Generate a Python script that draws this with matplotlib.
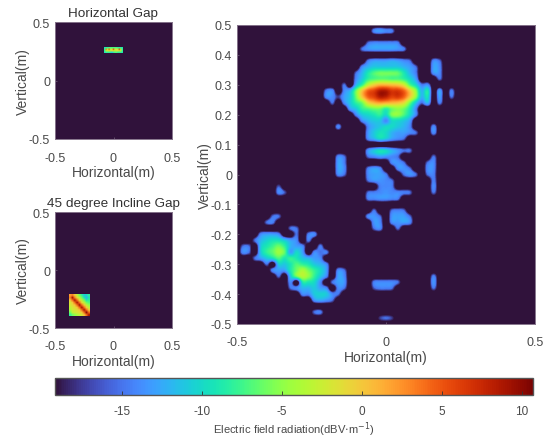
"""Electric field radiation maps for the horizontal and inclined gaps."""

import numpy as np
import matplotlib
matplotlib.use("Agg")
import matplotlib.pyplot as plt
from matplotlib.cm import ScalarMappable
from matplotlib.colors import ListedColormap, Normalize

plt.rcParams["font.family"] = ["Liberation Sans", "DejaVu Sans"]

o = -19.2  # nothing measured

# dBV/m, 0.02 m cells
# columns x = -0.22 ... 0.22, rows y = 0.48 ... -0.18
central_lobe = [
    [o, o, o, o, o, o, o, o, o, -14, -13, -14, -14.5, o, o, o, o, o, o, o, o, o, o],
    [o, o, o, o, o, o, o, o, o, o, o, o, o, o, o, o, o, o, o, o, o, o, o],
    [o, o, o, o, o, o, o, o, -15, -14, -14, -14, -14, -14.5, o, o, o, o, o, o, o, o, o],
    [o, o, o, o, o, o, o, -15, -13.5, -13, -13, -13, -13, -13.5, -14.5, o, o, o, o, o, o, o, o],
    [o, o, o, o, o, o, o, o, o, o, o, o, o, o, o, o, o, o, o, o, o, o, o],
    [o, o, o, o, o, o, o, o, -14.5, -13, -13, -13, -12.5, -13, -14, -15, o, o, o, -14, -15, o, o],
    [o, o, o, o, o, o, o, -14, -12, -11, -11, -11, -11, -11, -12, -13, -15, o, o, -13, -14, o, o],
    [o, o, o, o, o, o, -15, -12, -9, -7, -6, -6, -6, -6.5, -9, -12, -14.5, o, o, -13.5, -14, o, o],
    [o, o, o, o, o, o, -14, -11, -8, -7, -6.5, -6.5, -7, -7, -8, -10, -13, o, o, o, -15, o, o],
    [o, o, o, o, -15, o, -12, -8, -3, -0.5, 1, 1, 0.5, 0, -2, -7, -10, -14.5, -14, o, o, o, o],
    [o, -14.5, -14, o, -14, -12, -6, 0, 4.5, 6, 8.5, 8.5, 6.5, 6.5, 4.5, 0, -5, -12, -9, o, -13, o, -14.5],
    [o, -14, -14, -16, -13, -11, -6, 0, 4.5, 6, 8.5, 8, 6, 6.5, 4.5, 0, -5, -12, -9.5, o, -13, o, -15],
    [o, o, -15, o, -14, -11, -8, -6, -1, 1, 2, 1.5, 1, 0.5, -1, -6, -11, -15, -12, o, -14.5, o, o],
    [o, o, o, o, o, -13, -11, -8, -7, -6, -6, -8, -6, -5, -6, -9, -14, o, o, o, o, o, o],
    [o, o, o, o, o, o, -14, -11, -10, -9, -8, -10, -5.5, -5, -7, -10, -14, o, o, o, o, o, o],
    [o, o, o, o, o, o, o, -14, -12, -11, -11, -14, -10, -10, -11, -13, o, o, o, o, o, o, o],
    [o, o, o, -14, o, o, o, o, -14, -12, -11, -10, -10, -11, -12, -14, o, o, o, -14, o, o, o],
    [o, o, o, o, o, o, o, o, -13.5, -11, -9.5, -10, -12, -13, -13, -14, -15, o, o, -14, o, o, o],
    [o, o, o, o, o, o, o, o, -14, -12, -10, -11, -13, -14, -15, o, o, o, o, o, o, o, o],
    [o, o, o, o, o, o, o, o, o, o, o, o, o, o, o, o, o, o, o, o, o, o, o],
    [o, o, o, o, o, o, o, o, -13.5, -11, -9.5, -10, -12, -13.5, -15, -15, o, o, o, o, o, o, o],
    [o, o, o, -14, -15, o, o, o, -15, -14, -13, -13.5, -14, -15, o, o, o, o, o, -15, o, o, o],
    [o, o, o, -13, -14.5, o, o, o, o, o, o, o, -14, -13.5, -15, o, o, o, -15, -14, o, o, o],
    [o, o, o, -13, -14, o, o, o, -14.5, -13, -14, o, o, -14, -13.5, -15, o, o, -14, -14, o, o, o],
    [o, o, o, -14, -15, o, o, o, -14, -13, -13, -14.5, o, o, -15, -13.5, -15, o, -15, -14.5, o, o, o],
    [o, o, o, o, o, o, o, o, -15, -13.5, -13.5, -14, -15, o, o, o, o, o, o, -14.5, o, o, o],
    [o, o, o, o, o, o, o, o, o, o, -14.5, -14, -14.5, o, o, o, o, o, o, -14, o, o, o],
    [o, o, o, o, o, o, o, o, -15, -14.5, -14, -13.5, -14, -14, -14.5, -15, o, o, o, -15, o, o, o],
    [o, o, o, o, o, o, o, o, -14.5, -14, -13.5, -13.5, -14, -14.5, o, o, o, o, o, o, o, o, o],
    [o, o, o, o, o, o, o, o, o, o, o, o, o, o, o, o, o, o, o, o, o, o, o],
    [o, o, o, o, o, o, o, o, o, -15, o, o, -15, -14.5, -15, o, o, o, o, o, o, o, o],
    [o, o, o, o, o, o, o, o, -14, -13.5, -15, o, -13.5, -13, -13, -15, o, o, o, o, o, o, o],
    [o, o, o, o, o, o, o, o, o, -13.5, -14, o, -14, -13.5, -13, -14, o, o, o, o, o, o, o],
    [o, o, o, o, o, o, o, o, o, -15, -14, o, o, -15, o, o, o, o, o, o, o, o, o],
]

# columns x = -0.50 ... -0.14, rows y = -0.14 ... -0.46
incline_lobe = [
    [o, o, o, o, o, o, -15, -15, o, o, o, o, o, o, o, o, o, o, o],
    [o, o, o, o, o, -15, -14.5, o, o, o, o, o, o, o, o, o, o, o, o],
    [o, o, o, o, o, o, o, o, o, -15, -15, o, o, o, o, o, o, o, o],
    [o, o, o, o, -14, -13, -13, -14, o, o, -15, o, -14.5, -14, o, o, o, o, o],
    [o, o, o, -15, -12, -10.5, -9.5, -9.5, -11, -13, -14, o, -14.5, o, o, o, o, o, o],
    [o, -15, -15, o, -11, -9, -7.5, -6, -8, -12, -13, -14, o, o, -14.5, o, o, o, o],
    [o, -14, -15, o, -11, -8, -6.5, -4.5, -6.5, -13, -10, -13, o, -14, -15, -14.5, o, o, o],
    [o, o, o, -15, -13, -11, -9.5, -7, -9, -8, -9, -11, -12, -13, -14, o, o, o, o],
    [o, o, o, o, o, -15, o, -11, -11, -9, -7, -8, -9, -11, -12, -14, o, o, o],
    [o, o, o, o, o, o, -14, -13, -13, -9, -6, -4, -6, -8, -10, -13, o, -14, -15],
    [o, o, o, o, o, o, o, -15, o, -11, -6, -3.5, -5, -8, -11, -14, o, -13, -14],
    [o, o, o, o, o, o, o, o, o, -14, o, -9, -9, -10, -14, o, -15, -13, -13.5],
    [o, o, o, o, o, o, o, o, o, -15, -14, -12, -12, -11, -13, -14, o, -14, -15],
    [o, o, o, o, o, o, o, o, o, o, o, -14, -14, -11, -10.5, -11, -14, -15, o],
    [o, o, o, o, o, o, o, o, o, o, o, o, o, -13.5, -12.5, -13.5, -15, o, o],
    [o, o, o, o, o, o, o, o, o, o, o, o, o, o, o, o, o, o, o],
    [o, o, o, o, o, o, o, o, o, o, o, o, o, -15, -14.5, o, o, o, o],
]

# isolated spots on the big map
spot_x = [-0.36, -0.34, -0.36, -0.04, -0.02, 0.0, 0.02, 0.04, -0.04, -0.02, 0.0, 0.02,
          0.16, 0.16, 0.16, 0.0, -0.02, 0.02]
spot_y = [-0.06, -0.06, -0.04, -0.36, -0.36, -0.36, -0.36, -0.36, -0.38, -0.38, -0.38, -0.38,
          -0.36, -0.34, -0.38, -0.48, -0.48, -0.48]
spot_db = [-14, -15.5, -15.5, -14.5, -14, -14, -14, -15, -15.5, -14.5, -14.5, -15,
           -13.5, -14.5, -15, -15, -16, -16]

# the measured gap regions on the two small maps
horizontal_gap = [
    [-9, -8, -8, -7, -7, -7, -7, -7, -7, -8, -8, -8, -9],
    [-8, 4, -3, 5, -3, -1, 5, -3, -1, -3, 6, -3, -8],
    [-8, -3, -3, -1, -3, -1, -2, -4, -2, -1, -3, -3, -8],
    [-9, -8, -8, -8, -9, -11, -8, -7, -7, -8, -8, -8, -9],
]
incline_gap = [
    [2, 3, 0, -3, -6, -8, -11, -10, -8],
    [3, 9, 3, -1, -3, -6, -9, -12, -9],
    [0, 4, 9, 4, -1, -3, -6, -9, -8],
    [-2, 0, 4, 9, 4, -1, -3, -6, -7],
    [-2, -1, 0, 4, 9, 4, 0, -3, -5],
    [-3, -2, -1, 0, 4, 9, 4, 0, -3],
    [-4, -2, -2, -1, 0, 4, 9, 4, 0],
    [-6, -3, -2, -2, -1, 0, 4, 10, 4],
    [-8, -6, -5, -4, -3, -2, 0, 4, 9],
]

small_ticks = [-0.5, 0, 0.5]
small_tick_labels = ["-0.5", "0", "0.5"]
main_xticks = [-0.5, 0, 0.5]
main_xtick_labels = ["-0.5", "0", "0.5"]
main_yticks = [-0.5, -0.4, -0.3, -0.2, -0.1, 0, 0.1, 0.2, 0.3, 0.4, 0.5]
main_ytick_labels = ["-0.5", "-0.4", "-0.3", "-0.2", "-0.1", "0", "0.1", "0.2", "0.3", "0.4", "0.5"]
bar_ticks = [-15, -10, -5, 0, 5, 10]

VMIN, VMAX = -19.17, 10.7
TEXT = "#4a4a4a"
EDGE = "#86758c"
W, H = 547, 439


def box(left, top, right, bottom):
    # pixel box to figure fractions
    return [left / W, 1 - bottom / H, (right - left) / W, (bottom - top) / H]


def style_axes(ax, xticks, xlabels, yticks, ylabels):
    ax.set_xlim(-0.5, 0.5)
    ax.set_ylim(-0.5, 0.5)
    ax.set_aspect("auto")
    ax.set_xticks(xticks, xlabels)
    ax.set_yticks(yticks, ylabels)
    ax.tick_params(direction="in", length=1.5, width=0.4, color=EDGE,
                   labelcolor=TEXT, labelsize=9)
    ax.tick_params(axis="x", pad=9)
    ax.tick_params(axis="y", pad=3.5)
    ax.set_xlabel("Horizontal(m)", color=TEXT, fontsize=10, labelpad=1)
    ax.set_ylabel("Vertical(m)", color=TEXT, fontsize=10, labelpad=-0.5)
    for spine in ax.spines.values():
        spine.set_color(EDGE)
        spine.set_linewidth(0.7)


base = plt.get_cmap("turbo")
# the map is clipped around -16 dB: below that it fades fast to the background colour
levels = np.linspace(VMIN, VMAX, 512)
colors = base(np.linspace(0, 1, 512))
fade = np.clip((levels + 17.2) / 2.2, 0, 1)[:, None]
colors[:, :3] = colors[0, :3] * (1 - fade) + colors[:, :3] * fade
clipped = ListedColormap(colors)
norm = Normalize(VMIN, VMAX)

fig = plt.figure(figsize=(W / 100, H / 100), dpi=100)

# big map
grid = np.full((51, 51), o)
central = np.array(central_lobe)
for r in range(central.shape[0]):
    grid[49 - r, 14:37] = central[r]
incline = np.array(incline_lobe)
for r in range(incline.shape[0]):
    grid[18 - r, 0:19] = incline[r]
for x, y, db in zip(spot_x, spot_y, spot_db):
    grid[round((y + 0.5) / 0.02), round((x + 0.5) / 0.02)] = db

ax_main = fig.add_axes(box(237, 26, 535, 325))
ax_main.imshow(grid, origin="lower", extent=[-0.51, 0.51, -0.51, 0.51],
               cmap=clipped, norm=norm, interpolation="catrom",
               interpolation_stage="data")
style_axes(ax_main, main_xticks, main_xtick_labels, main_yticks, main_ytick_labels)

# small maps
ax_top = fig.add_axes(box(55, 23, 172, 140))
ax_top.set_facecolor(base(0.0))
ax_top.imshow(np.array(horizontal_gap), extent=[-0.08, 0.08, 0.237, 0.285],
              cmap=base, norm=norm, interpolation="bilinear")
style_axes(ax_top, small_ticks, small_tick_labels, small_ticks, small_tick_labels)
ax_top.set_title("Horizontal Gap", color="#333333", fontsize=9.7, pad=4)

ax_low = fig.add_axes(box(55, 213, 172, 329))
ax_low.set_facecolor(base(0.0))
ax_low.imshow(np.array(incline_gap), extent=[-0.383, -0.204, -0.394, -0.208],
              cmap=base, norm=norm, interpolation="bilinear")
style_axes(ax_low, small_ticks, small_tick_labels, small_ticks, small_tick_labels)
ax_low.set_title("45 degree Incline Gap", color="#333333", fontsize=9.7, pad=4)

# colour bar
ax_bar = fig.add_axes(box(55, 379, 533, 396))
cbar = fig.colorbar(ScalarMappable(norm=norm, cmap=base), cax=ax_bar, orientation="horizontal")
cbar.set_ticks(bar_ticks, labels=[str(t) for t in bar_ticks])
cbar.ax.tick_params(direction="in", length=3, width=0.6, color="#333333",
                    labelcolor=TEXT, labelsize=8.5, pad=7)
cbar.outline.set_edgecolor("#555555")
cbar.outline.set_linewidth(1.0)
cbar.set_label("Electric field radiation(dBV$\\cdot$m$^{-1}$)", color=TEXT, fontsize=8.1, labelpad=2)

fig.savefig("out.png", dpi=100)
